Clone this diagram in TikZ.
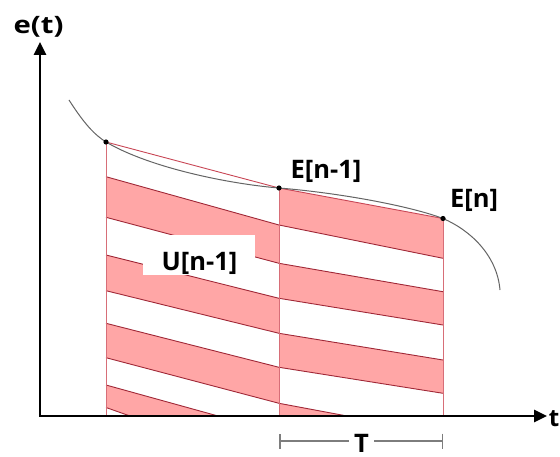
\documentclass[tikz,border=0pt]{standalone}
\usepackage{graphicx}
\usepackage{fontspec}
\setmainfont{Open Sans}
\usetikzlibrary{arrows.meta}
\definecolor{pinkfill}{RGB}{255,166,166}
\definecolor{stripeline}{RGB}{160,40,55}
\definecolor{vline}{RGB}{215,110,120}
\definecolor{chordline}{RGB}{200,70,85}
\definecolor{curvegray}{RGB}{100,100,100}
\definecolor{brackgray}{RGB}{125,125,125}
\begin{document}
\begin{tikzpicture}[x=1pt,y=-1pt,
  lbl/.style={font=\bfseries\fontsize{25.5}{30}\selectfont, inner sep=0pt},
  axlbl/.style={font=\bfseries\fontsize{24}{28}\selectfont, inner sep=0pt},
  band/.style={fill=pinkfill},
  bline/.style={draw=stripeline, line width=0.9pt},
  vertline/.style={draw=vline, line width=1pt},
  chord/.style={draw=chordline, line width=0.9pt},
  curve/.style={draw=curvegray, line width=1pt},
  axis/.style={draw=black, line width=2.6pt, line join=miter,
    {Triangle[length=13pt,width=12pt]}-{Triangle[length=13pt,width=12pt]}},
  brack/.style={draw=brackgray, line width=1.5pt,
    {Bar[width=15pt,line width=1.5pt]}-{Bar[width=15pt,line width=1.5pt]}},
  dot/.style={fill=black}
]
\useasboundingbox (0,0) rectangle (560,457);

% key points
\coordinate (O) at (40,416);
\coordinate (Ytip) at (40,42);
\coordinate (Xtip) at (547,416);
\coordinate (P0) at (106,142);
\coordinate (E1) at (279,188);
\coordinate (E2) at (443,218.5);

% region 1 pink bands
\fill[band] (106,176.7) -- (279,225) -- (279,263.3) -- (106,217.3) -- cycle;
\fill[band] (106,255) -- (279,298.3) -- (279,333.3) -- (106,290.7) -- cycle;
\fill[band] (106,323.3) -- (279,367.3) -- (279,403.3) -- (106,357.7) -- cycle;
\fill[band] (106,385) -- (218,416) -- (130,416) -- (106,407.5) -- cycle;
% region 2 pink bands
\fill[band] (E1) -- (E2) -- (443,258.3) -- (279,225) -- cycle;
\fill[band] (279,263.3) -- (443,291.7) -- (443,325) -- (279,298.3) -- cycle;
\fill[band] (279,333.3) -- (443,360) -- (443,393.3) -- (279,367.3) -- cycle;
\fill[band] (279,403.3) -- (347,416) -- (279,416) -- cycle;

% stripe boundary lines
\draw[bline] (106,176.7) -- (279,225) -- (443,258.3);
\draw[bline] (106,217.3) -- (279,263.3) -- (443,291.7);
\draw[bline] (106,255) -- (279,298.3) -- (443,325);
\draw[bline] (106,290.7) -- (279,333.3) -- (443,360);
\draw[bline] (106,323.3) -- (279,367.3) -- (443,393.3);
\draw[bline] (106,357.7) -- (279,403.3) -- (347,416);
\draw[bline] (106,385) -- (218,416);
\draw[bline] (106,407.5) -- (130,416);

% white label box and label
\fill[white] (143,235) rectangle (255,275);
\node[lbl] (U) at (199.5,263.5) {U[n-1]};

% vertical sample lines
\draw[vertline] (P0) -- (P0 |- O);
\draw[vertline] (E1) -- (E1 |- O);
\draw[vertline] (E2) -- (E2 |- O);

% chords
\draw[chord] (P0) -- (E1) -- (E2);

% curve
\draw[curve] (69,100) .. controls (85,125) and (95,135) .. (P0)
  .. controls (150,168) and (230,184) .. (E1)
  .. controls (340,193) and (410,206) .. (E2)
  .. controls (470,230) and (497,255) .. (500,290);

% dots
\fill[dot] (P0) circle (2.6);
\fill[dot] (E1) circle (2.6);
\fill[dot] (E2) circle (2.6);

% axes
\draw[axis] (Ytip) |- (Xtip);

% labels
\node[axlbl] (et) at (38.5,26.5) {\scalebox{1.22}[1]{e(t)}};
\node[axlbl] (tl) at (554,419) {t};
\node[lbl] (En1) at (326,171.5) {E[n-1]};
\node[lbl] (En) at (474,200.5) {E[n]};

% period bracket
\coordinate (Ta) at (E1 |- 0,441);
\coordinate (Tb) at (E2 |- 0,441);
\draw[brack] (Ta) -- (Tb);
\node[lbl, fill=white, inner xsep=5pt] (T) at (361.5,443) {T};
\end{tikzpicture}
\end{document}
